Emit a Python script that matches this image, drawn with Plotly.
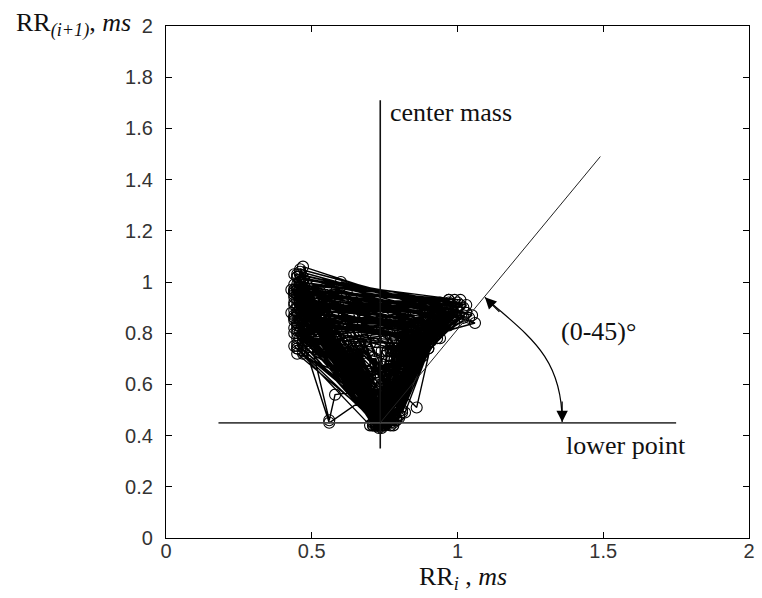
import plotly.graph_objects as go

# Successive RR intervals (s); the Poincaré map plots RR_i against RR_(i+1)
rr = [
    0.74, 0.46, 0.98, 0.86, 0.73, 0.45, 1.02, 0.90, 0.76, 0.47, 0.88, 0.82,
    0.72, 0.44, 0.97, 0.93, 0.78, 0.48, 0.83, 0.79, 0.74, 0.46, 0.92, 0.88,
    0.75, 0.47, 1.06, 0.84, 0.77, 0.49, 0.80, 0.76, 0.73, 0.45, 0.95, 0.91,
    0.79, 0.47, 0.86, 0.80, 0.70, 0.44, 0.75, 0.86, 0.74, 0.46, 0.99, 0.87,
    0.72, 0.45, 0.90, 0.85, 0.76, 0.48, 0.94, 0.78, 0.73, 0.44, 0.82, 0.88,
    0.75, 0.46, 1.00, 0.92, 0.81, 0.50, 0.72, 0.70, 0.56, 0.45, 0.84, 0.79,
    0.74, 0.46, 0.95, 0.82, 0.70, 0.64, 0.73, 0.45, 0.88, 0.76, 0.66, 0.74,
    0.47, 0.96, 0.89, 0.77, 0.45, 0.87, 0.83, 0.73, 0.46, 1.04, 0.86, 0.75,
    0.52, 0.94, 0.84, 0.76, 0.48, 0.91, 0.84, 0.78, 0.45, 0.75, 0.79, 0.72,
    0.44, 0.96, 0.90, 0.74, 0.43, 0.97, 0.93, 0.86, 0.51, 0.90, 0.88, 0.78,
    0.47, 1.00, 0.86, 0.68, 0.61, 0.72, 0.55, 0.98, 0.87, 0.73, 0.47, 0.85,
    0.81, 0.73, 0.45, 0.93, 0.87, 0.76, 0.46, 0.78, 0.82, 0.71, 0.44, 0.92,
    0.79, 0.63, 0.70, 0.76, 0.58, 0.92, 0.80, 0.75, 0.44, 0.89, 0.86, 0.75,
    0.47, 1.01, 0.91, 0.79, 0.46, 0.81, 0.77, 0.73, 0.45, 0.72, 0.58, 0.56,
    0.46, 0.94, 0.92, 0.80, 0.48, 0.88, 0.84, 0.74, 0.46, 0.84, 0.72, 0.60,
    0.71, 0.45, 0.98, 0.89, 0.77, 0.44, 0.85, 0.87, 0.76, 0.62, 0.96, 0.85,
    0.72, 0.46, 0.92, 0.81, 0.72, 0.45, 1.03, 0.88, 0.74, 0.47, 0.79, 0.83,
    0.73, 0.45, 0.97, 0.83, 0.69, 0.65, 0.74, 0.44, 0.91, 0.90, 0.78, 0.46,
    0.97, 0.85, 0.75, 0.50, 0.88, 0.83, 0.74, 0.45, 0.83, 0.80, 0.71, 0.44,
    0.95, 0.86, 0.76, 0.48, 0.89, 0.91, 0.79, 0.47, 0.77, 0.74, 0.73, 0.48,
    0.90, 0.74, 0.67, 0.73, 0.45, 0.99, 0.93, 0.82, 0.49, 0.86, 0.82, 0.74,
    0.60, 1.00, 0.89, 0.77, 0.46, 0.93, 0.87, 0.72, 0.44, 0.80, 0.85, 0.75,
    0.45, 0.80, 0.68, 0.62, 0.75, 0.45, 1.02, 0.86, 0.77, 0.47, 0.90, 0.79,
    0.73, 0.54, 0.85, 0.79, 0.73, 0.46, 0.96, 0.88, 0.76, 0.45, 0.74, 0.81,
    0.72, 0.44, 0.87, 0.83, 0.74, 0.46, 1.03, 0.88, 0.71, 0.66, 0.72, 0.46,
    1.00, 0.90, 0.80, 0.48, 0.92, 0.84, 0.75, 0.64, 0.93, 0.82, 0.71, 0.45,
    0.84, 0.78, 0.73, 0.47, 0.98, 0.91, 0.78, 0.46, 0.89, 0.86, 0.74, 0.44,
    0.86, 0.78, 0.64, 0.74, 0.44, 0.94, 0.82, 0.76, 0.45, 0.81, 0.87, 0.73,
    0.43, 0.88, 0.89, 0.77, 0.46, 1.05, 0.87, 0.74, 0.48, 0.93, 0.80, 0.72,
    0.45, 0.78, 0.76, 0.73, 0.57, 0.95, 0.83, 0.70, 0.63, 0.75, 0.44, 0.97,
    0.92, 0.79, 0.46, 0.85, 0.84, 0.75, 0.45, 0.91, 0.88, 0.76, 0.47, 0.72,
    0.78, 0.74, 0.45, 0.95, 0.85, 0.73, 0.44, 0.86, 0.81, 0.77, 0.46, 1.01,
    0.93, 0.81, 0.49, 0.94, 0.87, 0.75, 0.61, 0.90, 0.76, 0.69, 0.74, 0.45,
    0.82, 0.79, 0.73, 0.46, 0.90, 0.90, 0.78, 0.44, 0.99, 0.84, 0.74, 0.45,
    0.76, 0.80, 0.72, 0.47, 0.92, 0.86, 0.76, 0.45, 0.88, 0.83, 0.74, 0.53,
    0.96, 0.86, 0.70, 0.65, 0.73, 0.44, 1.03, 0.91, 0.77, 0.46, 0.85, 0.78,
    0.73, 0.45, 0.97, 0.89, 0.75, 0.48, 0.80, 0.84, 0.74, 0.46, 0.93, 0.90,
    0.80, 0.47, 0.87, 0.82, 0.73, 0.44, 0.96, 0.86, 0.76, 0.59, 0.91, 0.81,
    0.67, 0.62, 0.72, 0.45, 0.74,
]
rr_i = rr[:-1]
rr_next = rr[1:]

# Reference lines: centre of mass (vertical), lower point (horizontal), slope line
center_x = 0.735
center_y_span = [0.35, 1.71]
lower_y = 0.45
lower_x_span = [0.18, 1.75]
slope_x = [0.735, 1.49]
slope_y = [0.45, 1.49]

# Pixel geometry of the plot area
W, H = 762, 598
ML, MR, MT, MB = 166, 7, 26, 60
PW, PH = W - ML - MR, H - MT - MB


def paper_x(px):
    return (px - ML) / PW


def paper_y(py):
    return (H - MB - py) / PH


serif = "Liberation Serif"
sans = "Liberation Sans"

fig = go.Figure()

fig.add_trace(go.Scatter(
    x=rr_i, y=rr_next, mode="lines+markers",
    line=dict(color="black", width=1.4),
    marker=dict(symbol="circle-open", size=11, color="black", line=dict(width=1.1)),
    showlegend=False, hoverinfo="skip",
))

fig.add_trace(go.Scatter(
    x=[center_x, center_x], y=center_y_span, mode="lines",
    line=dict(color="#111", width=1.6), showlegend=False, hoverinfo="skip",
))
fig.add_trace(go.Scatter(
    x=lower_x_span, y=[lower_y, lower_y], mode="lines",
    line=dict(color="#444", width=1.8), showlegend=False, hoverinfo="skip",
))
fig.add_trace(go.Scatter(
    x=slope_x, y=slope_y, mode="lines",
    line=dict(color="#222", width=1), showlegend=False, hoverinfo="skip",
))

# Curved double-headed arrow marking the (0-45)° angle
fig.add_shape(
    type="path",
    path="M 1.094,0.94 C 1.237,0.793 1.359,0.715 1.359,0.453",
    line=dict(color="black", width=1.2),
    xref="x", yref="y",
)

annotations = [
    dict(x=1.094, y=0.94, ax=16, ay=16, text="", showarrow=True,
         arrowhead=2, arrowsize=1.9, arrowwidth=1.2, arrowcolor="black"),
    dict(x=1.359, y=0.453, ax=0, ay=-22, text="", showarrow=True,
         arrowhead=2, arrowsize=1.9, arrowwidth=1.2, arrowcolor="black"),
    dict(x=0.762, y=1.664, text="center mass", showarrow=False,
         xanchor="left", yanchor="middle",
         font=dict(family=serif, size=26, color="#111")),
    dict(x=1.349, y=0.805, text="(0-45)°", showarrow=False,
         xanchor="left", yanchor="middle",
         font=dict(family=serif, size=26, color="#111")),
    dict(x=1.366, y=0.363, text="lower point", showarrow=False,
         xanchor="left", yanchor="middle",
         font=dict(family=serif, size=26, color="#111")),
    dict(xref="paper", yref="paper", x=paper_x(12), y=paper_y(6),
         text="RR<sub><i>(i+1)</i></sub>, <i>ms</i>", showarrow=False,
         xanchor="left", yanchor="top",
         font=dict(family=serif, size=26, color="#111")),
    dict(xref="paper", yref="paper", x=paper_x(466), y=paper_y(578),
         text="RR<sub><i>i</i></sub> , <i>ms</i>", showarrow=False,
         xanchor="center", yanchor="middle",
         font=dict(family=serif, size=26, color="#111")),
]

axis_style = dict(
    showline=True, linecolor="black", linewidth=1.2, mirror="ticks",
    ticks="inside", ticklen=6, tickcolor="black", tickwidth=1,
    showgrid=False, zeroline=False,
    tickfont=dict(family=sans, size=20, color="#333"),
)

fig.update_layout(
    width=W, height=H,
    margin=dict(l=ML, r=MR, t=MT, b=MB),
    paper_bgcolor="white", plot_bgcolor="white",
    xaxis=dict(range=[0, 2], tickmode="array",
               tickvals=[0, 0.5, 1, 1.5, 2], ticklabelstandoff=-5, **axis_style),
    yaxis=dict(range=[0, 2], tickmode="array",
               tickvals=[0, 0.2, 0.4, 0.6, 0.8, 1, 1.2, 1.4, 1.6, 1.8, 2],
               ticklabelstandoff=8, **axis_style),
    annotations=annotations,
)

fig.write_html("out.html")
